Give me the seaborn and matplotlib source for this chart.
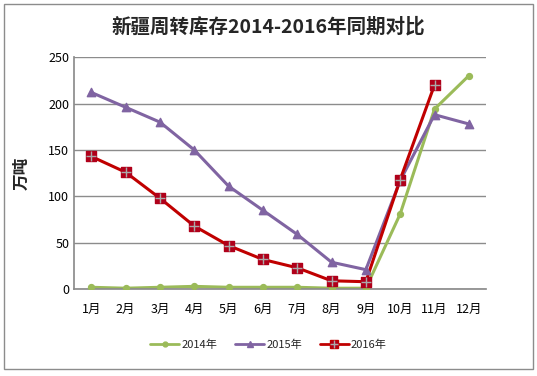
import numpy as np
import pandas as pd
import matplotlib.pyplot as plt
import seaborn as sns
from matplotlib.lines import Line2D
from matplotlib.patches import Rectangle

# Chart data
months = ["1月", "2月", "3月", "4月", "5月", "6月", "7月", "8月", "9月", "10月", "11月", "12月"]
y2014 = [2, 1, 2, 3, 2, 2, 2, 1, 1, 81, 194, 230]
y2015 = [212, 196, 180, 150, 111, 85, 59, 29, 21, 117, 188, 178]
y2016 = [143, 126, 98, 68, 47, 32, 23, 9, 8, 118, 220, np.nan]
series_names = ["2014年", "2015年", "2016年"]

colors = {"2014年": "#9BBB59", "2015年": "#8064A2", "2016年": "#C00000"}

df = pd.DataFrame({"月份": months * 3,
                   "库存": y2014 + y2015 + y2016,
                   "年份": np.repeat(series_names, len(months))})

sns.set_theme(style="white")
plt.rcParams["font.family"] = ["Noto Sans CJK SC", "DejaVu Sans"]

fig = plt.figure(figsize=(5.37, 3.76), dpi=100)
ax = fig.add_axes([0.138, 0.231, 0.767, 0.617])

# outer chart border
fig.patches.append(Rectangle((4 / 537, 7 / 376), 529 / 537, 365 / 376, transform=fig.transFigure,
                             fill=False, edgecolor="#8c8c8c", linewidth=1))

sns.lineplot(data=df, x="月份", y="库存", hue="年份", palette=colors, linewidth=2.2,
             sort=False, legend=False, ax=ax)

# markers for each series
d14 = df[df["年份"] == "2014年"]
d15 = df[df["年份"] == "2015年"]
d16 = df[df["年份"] == "2016年"].dropna()
ax.scatter(d14["月份"], d14["库存"], marker="o", s=18, color="#9BBB59", zorder=3)
ax.scatter(d15["月份"], d15["库存"], marker="^", s=36, color="#8064A2", zorder=3)
ax.scatter(d16["月份"], d16["库存"], marker="s", s=55, color="#B0001A", zorder=3)
ax.scatter(d16["月份"], d16["库存"], marker="+", s=55, color="#aaaaaa", linewidths=1, zorder=4)

ax.set_xlim(-0.5, 11.5)
ax.set_ylim(0, 250)
ax.set_yticks([0, 50, 100, 150, 200, 250])
ax.yaxis.grid(True, color="#8c8c8c", linewidth=1)
ax.xaxis.grid(False)
ax.set_axisbelow(True)
for side in ["top", "right"]:
    ax.spines[side].set_visible(False)
for side in ["left", "bottom"]:
    ax.spines[side].set_color("#8c8c8c")
ax.tick_params(axis="both", length=0, labelsize=9, colors="black")
ax.tick_params(axis="x", pad=10)
ax.set_xlabel("")
ax.set_ylabel("万吨", fontsize=12, fontweight="bold", labelpad=13)

fig.text(0.5, 0.93, "新疆周转库存2014-2016年同期对比", ha="center", va="center",
         fontsize=14, fontweight="bold")

handles = [
    Line2D([], [], color="#9BBB59", marker="o", markersize=3.5, linewidth=2),
    Line2D([], [], color="#8064A2", marker="^", markersize=5, linewidth=2),
    (Line2D([], [], color="#C00000", marker="s", markersize=6, markerfacecolor="#B0001A", linewidth=2),
     Line2D([], [], color="#aaaaaa", marker="+", markersize=6, linestyle="none")),
]
fig.legend(handles, series_names, loc="center", bbox_to_anchor=(0.5, 0.083), ncol=3,
           frameon=False, fontsize=8, handlelength=2.6, handletextpad=0.2, columnspacing=1.6)

fig.savefig("out.png", dpi=100)
